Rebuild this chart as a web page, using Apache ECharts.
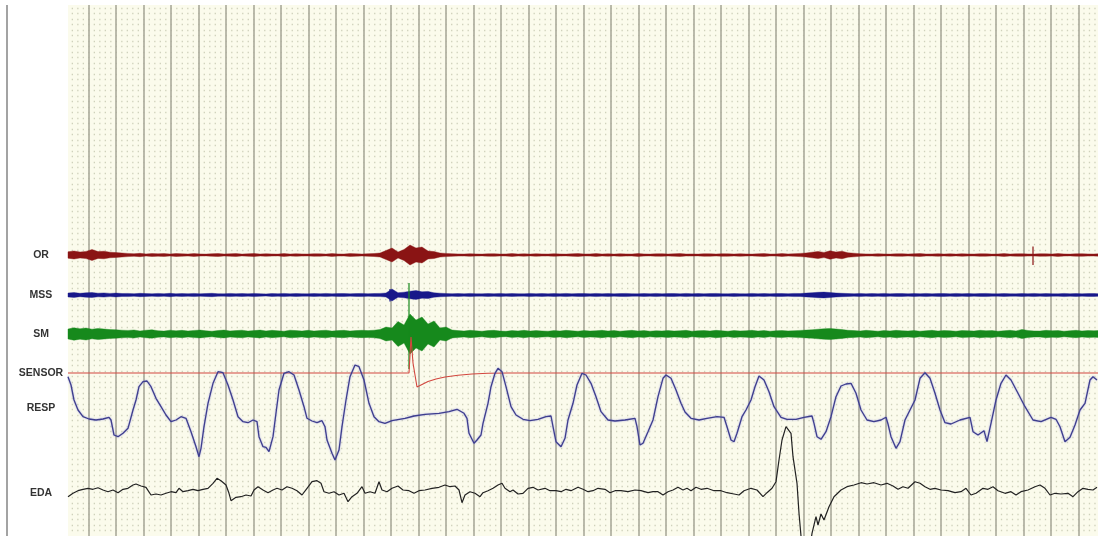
<!DOCTYPE html>
<html>
<head>
<meta charset="utf-8">
<script src="https://cdn.jsdelivr.net/npm/echarts@6/dist/echarts.min.js"></script>
<style>
  html, body { margin: 0; padding: 0; background: #ffffff; }
  #chart { width: 1098px; height: 536px; }
</style>
</head>
<body>
<div id="chart"></div>
<script>
// Polygraph recording: six channels over a common time base (samples).
const channelNames = ['OR', 'MSS', 'SM', 'SENSOR', 'RESP', 'EDA'];

// Min/max envelope half-widths of the three EMG-type channels, one value per bin of 6 samples.
const binStep = 6;
const orEnvelope = [
  3.2, 4, 3, 3.6, 5.5, 3.4, 3.8, 2.8, 2.4, 2,
  1.6, 1.3, 1.7, 1.1, 1.5, 1.2, 1.4, 1, 1.5, 1.2,
  1, 1.4, 1.1, 0.9, 1.3, 1.5, 1, 1.2, 1.4, 0.9,
  1.2, 1.5, 1, 1.3, 1.1, 0.9, 1.4, 1, 1.3, 1.1,
  1, 1.3, 1.2, 0.9, 1.4, 1.1, 1, 1.4, 1.2, 1,
  1.3, 1.5, 2, 4.5, 7, 3, 5.5, 10, 7, 8,
  4, 3.5, 2, 1.6, 1.3, 1.1, 1, 1.3, 1.1, 0.9,
  1.2, 1.3, 1, 1.1, 1.4, 1, 1.2, 0.9, 1.3, 1.1,
  1, 1.3, 1.1, 0.9, 1.2, 1.4, 1, 1.1, 1.4, 1,
  1.2, 0.9, 1.3, 1.1, 1, 1.4, 1.1, 0.9, 1.2, 1.3,
  1, 1.2, 1.4, 1, 1.1, 0.9, 1.3, 1.2, 1, 1.3,
  1.2, 1, 1.3, 1.1, 0.9, 1.2, 1.4, 1, 1.1, 1.4,
  1.1, 1.3, 1.6, 2, 2.8, 3.6, 2.6, 4.2, 3, 3.8,
  2.2, 1.8, 1.3, 1.1, 1, 1.3, 1.1, 0.9, 1.2, 1.3,
  1, 1.2, 1.4, 1, 1.1, 1.3, 1, 1.2, 0.9, 1.3,
  1.1, 1, 1.3, 1.2, 0.9, 1.1, 1.4, 1, 1.2, 1.3,
  1.1, 1, 1.3, 1.2, 1, 1.4, 1.1, 0.9, 1.2, 1.3,
  1.1, 1, 1.2
];
const mssEnvelope = [
  2, 2.4, 1.7, 2.2, 2.5, 1.8, 2.1, 1.6, 1.9, 1.5,
  1.6, 1.3, 1.7, 1.4, 1.2, 1.6, 1.3, 1.7, 1.2, 1.5,
  1.3, 1.6, 1.2, 1.5, 1.7, 1.3, 1.2, 1.6, 1.3, 1.5,
  1.2, 1.6, 1.3, 1.1, 1.5, 1.3, 1.6, 1.2, 1.5, 1.3,
  1.2, 1.5, 1.3, 1.6, 1.2, 1.4, 1.5, 1.2, 1.4, 1.6,
  1.3, 1.5, 1.6, 2, 6, 2.3, 2.8, 3.8, 4.4, 3.2,
  3.6, 2.2, 1.8, 1.5, 1.3, 1.5, 1.2, 1.6, 1.3, 1.2,
  1.5, 1.3, 1.6, 1.2, 1.5, 1.3, 1.2, 1.6, 1.3, 1.5,
  1.2, 1.5, 1.3, 1.6, 1.2, 1.4, 1.5, 1.2, 1.6, 1.3,
  1.5, 1.2, 1.4, 1.6, 1.3, 1.2, 1.5, 1.3, 1.6, 1.2,
  1.4, 1.5, 1.2, 1.6, 1.3, 1.5, 1.2, 1.4, 1.6, 1.3,
  1.2, 1.5, 1.3, 1.2, 1.6, 1.3, 1.5, 1.2, 1.4, 1.5,
  1.3, 1.6, 1.5, 1.9, 2.3, 2.7, 2.9, 2.5, 2, 1.7,
  1.5, 1.3, 1.6, 1.2, 1.5, 1.3, 1.6, 1.2, 1.4, 1.5,
  1.2, 1.5, 1.3, 1.6, 1.2, 1.4, 1.5, 1.2, 1.6, 1.3,
  1.5, 1.2, 1.4, 1.6, 1.3, 1.2, 1.5, 1.3, 1.2, 1.5,
  1.3, 1.6, 1.2, 1.5, 1.3, 1.2, 1.6, 1.3, 1.5, 1.2,
  1.4, 1.5, 1.3
];
const smEnvelope = [
  5, 6.2, 5.2, 6, 4.8, 5.6, 5, 4.4, 4.2, 3.8,
  3.6, 4, 3, 3.8, 4.2, 3.3, 2.9, 3.8, 3.2, 3.7,
  3, 3.6, 3.9, 3.2, 2.8, 3.5, 3.9, 3.1, 3.4, 3.8,
  2.9, 3.4, 3.9, 3.1, 3.7, 3.2, 2.8, 3.8, 3.4, 3,
  3.7, 3, 3.4, 3.8, 2.9, 3.4, 3.7, 3, 3.4, 3.7,
  3.4, 3.8, 4.5, 7, 6, 12.5, 9, 20, 14, 17,
  10, 13, 6, 7, 4, 3.4, 3, 3.7, 3.2, 2.8,
  3.4, 3.7, 3, 2.7, 3.4, 3.1, 3.7, 2.9, 3.4, 3.1,
  2.8, 3.4, 3, 3.7, 3.2, 2.8, 3.5, 3, 3.3, 3.7,
  3, 3.5, 2.8, 3.3, 3.7, 3, 3.4, 2.8, 3.3, 3.1,
  3.5, 3, 3.3, 3.7, 2.8, 3.3, 3.5, 3, 3.7, 3.2,
  2.8, 3.5, 3.1, 3.3, 3.7, 3, 3.5, 2.8, 3.3, 3.5,
  3.1, 3.3, 3.6, 3.9, 4.2, 4.8, 5.2, 5.6, 5, 4.4,
  3.7, 3.4, 3, 3.7, 3.3, 2.8, 3.5, 3.1, 3.7, 3.3,
  3, 3.5, 2.8, 3.3, 3.7, 3, 3.5, 3.3, 2.8, 3.5,
  3.3, 3, 3.7, 3.3, 3.5, 2.8, 3.3, 3.7, 3.1, 4.6,
  3.5, 3.1, 3, 3.7, 3.3, 3.5, 2.8, 3.3, 3.7, 3.1,
  3.5, 3.3, 3.5
];

// Isolated spikes: [sample, top, bottom]
const orSpikes = [[965, 8.5, -10]];
const mssSpikes = [[322, 6, -6.5]];
const smSpikes = [[341, 51, -35]];

// Sensor channel: [sample, value]
const sensorTrace = [
  [0, 0], [341, 0], [343, 36], [345, 10], [349, -14], [354, -11.5], [360, -8.5],
  [368, -6], [377, -4], [390, -2.2], [404, -1], [420, -0.3], [440, 0], [1030, 0]
];

// Respiration channel: [sample, value]
const respTrace = [
  [0, 31.3], [3, 23], [6, 8], [10, -2], [15, -8.7], [21, -11], [28, -12], [35, -11],
  [41, -9.3], [43, -12], [46, -27], [50, -28.7], [55, -25.3], [60, -20.3], [65, -2],
  [68, 8], [71, 21.3], [75, 26.3], [79, 27], [83, 21.3], [88, 9.7], [93, 1.3], [98, -7],
  [103, -13.7], [108, -12], [113, -8.7], [118, -10.3], [123, -23.7], [128, -38.7],
  [131, -48.7], [133, -40.3], [136, -18.7], [140, 4.7], [145, 24.7], [150, 36.3],
  [155, 35.3], [160, 23], [165, 8], [170, -8.7], [175, -13.7], [180, -14.7], [185, -12],
  [189, -13.7], [191, -28.7], [195, -38.7], [198, -39.3], [201, -43.7], [205, -28.7],
  [208, -5], [211, 18], [216, 34.7], [221, 36.3], [226, 33], [231, 18], [236, 1.3],
  [239, -10.3], [244, -13], [249, -14.7], [254, -12.7], [257, -18.7], [259, -32],
  [264, -45.3], [267, -52], [271, -42], [274, -18.7], [278, 8], [282, 31.3], [287, 43],
  [291, 41.3], [296, 28], [301, 4.7], [306, -8.7], [311, -13.7], [317, -15.3],
  [324, -12.7], [337, -10.3], [346, -8], [357, -6.3], [371, -5.3], [381, -3.7],
  [389, -1.3], [396, -5.3], [399, -10.3], [401, -25.3], [406, -35.3], [409, -32],
  [413, -27], [415, -15.3], [420, 4.7], [423, 21.3], [427, 34.7], [430, 39.7],
  [434, 36.3], [438, 21.3], [443, 1.3], [448, -7], [455, -11.3], [462, -12.7],
  [470, -11.3], [478, -8.7], [483, -8], [485, -18.7], [488, -33.7], [493, -38.7],
  [497, -30.3], [500, -12], [505, 4.7], [509, 23], [514, 34.7], [518, 33], [523, 24.7],
  [528, 11.3], [533, -3.7], [540, -12], [547, -13], [557, -12], [567, -10.3],
  [569, -18.7], [572, -37], [575, -35.3], [580, -23.7], [585, -12], [590, 11.3],
  [595, 29.7], [598, 33], [603, 29.7], [608, 18], [613, 4.7], [617, -4], [623, -10.3],
  [631, -12], [639, -10.3], [649, -8.7], [656, -9.3], [659, -18.7], [663, -32],
  [666, -33.7], [669, -25.3], [674, -8.7], [678, -2], [683, 8], [687, 21.3], [691, 32],
  [696, 28], [701, 16.3], [706, 1.3], [713, -9.3], [719, -11.3], [728, -11.3],
  [736, -9.3], [744, -8], [746, -15.3], [749, -28.7], [753, -31.3], [758, -23.7],
  [763, -8.7], [768, 11.3], [773, 22], [778, 24], [783, 24.7], [788, 14.7], [793, -2],
  [799, -12], [806, -13.7], [813, -12], [818, -9.3], [820, -16], [823, -28.7],
  [828, -40.3], [832, -33.7], [837, -12], [842, -2], [847, 8], [852, 29.7], [857, 35.3],
  [862, 29.7], [867, 14.7], [872, -2], [877, -14.7], [883, -16], [892, -12], [902, -9.3],
  [905, -23.7], [910, -27], [916, -22.7], [919, -33.7], [923, -15.3], [928, 8],
  [933, 24.7], [938, 33], [943, 28], [950, 14.7], [957, 1.3], [965, -12], [973, -13.7],
  [983, -9.3], [988, -11.3], [992, -18.7], [997, -33.7], [1002, -29.3], [1007, -17],
  [1012, -2], [1017, 4.7], [1022, 28], [1025, 31.3], [1029, 28]
];

// Electrodermal channel: [sample, value]
const edaTrace = [
  [0, -3.7], [5, -0.3], [10, 2.3], [15, 3.7], [20, 4.7], [25, 3.7], [30, 5.3], [35, 3],
  [40, 1.3], [45, 3], [50, 0.3], [55, 3.7], [60, 4.7], [65, 8], [68, 9], [73, 7],
  [78, 5.7], [83, -2], [88, -1], [93, -2], [98, -0.3], [103, 1.3], [108, 0.3], [111, 4.7],
  [115, 1.3], [120, 2.3], [125, 3.7], [130, 2.3], [135, 3.7], [140, 4.7], [145, 9.7],
  [149, 14.7], [153, 12.3], [158, 8], [161, -0.3], [163, -7.7], [168, -4.3], [173, -3.7],
  [178, -2], [183, -3], [186, 3], [190, 6.3], [195, 3], [200, 0.3], [205, 3], [209, 4.7],
  [214, 3], [219, 6.3], [224, 4.7], [229, 2.3], [234, -2], [239, 4.7], [244, 11.3],
  [249, 12.3], [253, 9.7], [256, 1.3], [261, -0.3], [266, 1.3], [271, -2], [276, -0.3],
  [280, -8.7], [284, -3.7], [289, -0.3], [294, 6.3], [297, -0.3], [302, 1.3], [307, -0.3],
  [311, 11.3], [314, 3], [319, 1.3], [324, 4.7], [330, 7], [335, 3], [341, 2.3],
  [346, -0.3], [351, 2.3], [357, 3], [364, 4.7], [371, 5.7], [377, 8], [382, 6.3],
  [387, 7], [391, 3], [394, -9.7], [397, -2], [402, 1.3], [407, -0.3], [412, -3.7],
  [415, 0.3], [420, 2.3], [425, 4.7], [430, 8], [434, 9.7], [437, 4.7], [442, 1.3],
  [445, 3], [450, -1], [455, -0.3], [460, 4.7], [465, 5.7], [470, 3], [477, 4.7],
  [482, 2.3], [488, 2.3], [493, 1.3], [498, 3.7], [503, 2.3], [510, 5.7], [515, 3.7],
  [520, 1.3], [525, 2.3], [530, 4.7], [537, 3.7], [542, 0.3], [547, 2.3], [553, 2.3],
  [560, 1.3], [567, 3], [573, 2.3], [580, 0.3], [585, 1.3], [590, 1.3], [595, -2],
  [600, 1.3], [605, 3], [610, 5.7], [615, 3], [619, 4.7], [623, 2.3], [628, 5.7],
  [633, 3.7], [639, 4.7], [646, 2.3], [653, 2.3], [659, 0.3], [666, -1], [671, -2],
  [676, 2.3], [683, 4.7], [689, 3], [695, -3.7], [699, 0.3], [704, 4.7], [708, 11.3],
  [711, 33], [714, 53], [718, 66.3], [720, 68], [723, 59.7], [725, 36.3], [729, 9.7],
  [731, -20.3], [733, -43], [735, -60], [739, -64], [742, -55], [744, -40.3],
  [748, -23.7], [750, -32], [753, -21], [756, -27], [761, -13.7], [766, -3.7], [773, 3],
  [779, 6.3], [786, 8], [793, 10.3], [799, 9], [806, 10.3], [813, 8], [819, 9.7],
  [825, 7], [830, 3.7], [835, 6.3], [840, 4.7], [847, 11.3], [852, 9.7], [857, 6.3],
  [862, 3.7], [867, 4.7], [873, 3], [880, 2.3], [887, 0.3], [893, 1.3], [898, 4.7],
  [903, -2], [908, -0.3], [915, 4.7], [920, 3.7], [925, 6.3], [930, 2.3], [937, -0.3],
  [943, 1.3], [948, -2], [953, 1.3], [960, 3], [967, 6.3], [972, 8], [977, 4.7],
  [982, -2], [987, -0.3], [993, -1], [1000, -0.3], [1005, -3.7], [1010, 1.3],
  [1015, 4.7], [1020, 3.7], [1025, 3], [1029, 5.7]
];

// ---- layout ----
const PLOT_LEFT = 68;
const SAMPLES = 1030;
const DIV = 27.49;            // px per major division
const FIRST_LINE = 88.7;      // first major division line
const colors = {
  OR: '#8a1414', MSS: '#18188a', SM: '#16891c', SENSOR: '#d2463e', RESP: '#3e3e8e', EDA: '#222222'
};
// vertical centre and half-range (px) of each channel strip
const strips = [
  { c: 255, h: 20 }, { c: 295, h: 20 }, { c: 334, h: 40 },
  { c: 373, h: 38 }, { c: 408, h: 60 }, { c: 493, h: 40 }
];

const grids = [
  // paper background with dotted rows
  { left: PLOT_LEFT, right: 0, top: 5, bottom: 0, show: true, backgroundColor: '#fbfbec', borderWidth: 0 },
  // major division lines
  { left: FIRST_LINE - DIV, right: 0, top: 5, bottom: 0 }
];

const xAxes = [
  { gridIndex: 0, type: 'value', min: 0, max: SAMPLES, show: false },
  {
    gridIndex: 1, type: 'value', min: 0, max: 1098 - (FIRST_LINE - DIV), interval: DIV,
    axisLine: { show: false }, axisTick: { show: false }, axisLabel: { show: false },
    splitLine: { show: true, showMinLine: false, showMaxLine: false,
      lineStyle: { color: '#aaaa9b', width: 1.6 } }
  }
];
const yAxes = [
  {
    gridIndex: 0, type: 'value', min: 0, max: 531 / 5.498, interval: 1,
    axisLine: { show: false }, axisTick: { show: false }, axisLabel: { show: false },
    splitLine: { show: true, showMinLine: false, showMaxLine: false,
      lineStyle: { color: '#cfd1bb', width: 1.3, type: [1.3, 4.198], dashOffset: 1.8 } }
  },
  { gridIndex: 1, type: 'value', show: false }
];

channelNames.forEach((name, k) => {
  const s = strips[k];
  grids.push({ left: PLOT_LEFT, right: 0, top: s.c - s.h, height: 2 * s.h });
  const g = grids.length - 1;
  xAxes.push({ gridIndex: g, type: 'value', min: 0, max: SAMPLES, show: false });
  yAxes.push({
    gridIndex: g, type: 'value', min: -s.h, max: s.h,
    axisLine: { show: false }, axisTick: { show: false }, axisLabel: { show: false },
    splitLine: { show: false },
    name: name, nameLocation: 'middle', nameRotate: 0, nameGap: 27,
    nameTextStyle: { align: 'center', verticalAlign: 'middle', fontFamily: 'Liberation Sans',
      fontWeight: 'bold', fontSize: 10.5, color: '#333333' }
  });
});
const axisOf = name => 2 + channelNames.indexOf(name);

// min/max envelope drawn as a filled band around the channel baseline
function envelopeSeries(name, env) {
  const idx = axisOf(name);
  const color = colors[name];
  return {
    type: 'custom', name: name, xAxisIndex: idx, yAxisIndex: idx, silent: true,
    data: [[0, 0]],
    renderItem: function (params, api) {
      const upper = [], lower = [];
      for (let i = 0; i < env.length; i++) {
        upper.push(api.coord([i * binStep, env[i]]));
        lower.push(api.coord([i * binStep, -env[i]]));
      }
      return {
        type: 'polygon',
        shape: { points: upper.concat(lower.reverse()) },
        style: { fill: color, stroke: color, lineWidth: 0.4 }
      };
    }
  };
}
function spikeSeries(name, spikes) {
  const idx = axisOf(name);
  const color = colors[name];
  return {
    type: 'custom', xAxisIndex: idx, yAxisIndex: idx, silent: true, clip: false,
    data: spikes,
    renderItem: function (params, api) {
      const a = api.coord([api.value(0), api.value(1)]);
      const b = api.coord([api.value(0), api.value(2)]);
      return { type: 'line', shape: { x1: a[0], y1: a[1], x2: b[0], y2: b[1] },
        style: { stroke: color, lineWidth: 1.2 } };
    }
  };
}
function traceSeries(name, data, width, halo) {
  const idx = axisOf(name);
  const lineStyle = { color: colors[name], width: width };
  if (halo) {
    lineStyle.shadowColor = halo;
    lineStyle.shadowBlur = 2;
  }
  return {
    type: 'line', name: name, xAxisIndex: idx, yAxisIndex: idx, data: data,
    showSymbol: false, silent: true, clip: false, animation: false,
    lineStyle: lineStyle
  };
}

const series = [
  envelopeSeries('OR', orEnvelope),
  spikeSeries('OR', orSpikes),
  envelopeSeries('MSS', mssEnvelope),
  spikeSeries('MSS', mssSpikes),
  envelopeSeries('SM', smEnvelope),
  spikeSeries('SM', smSpikes),
  traceSeries('SENSOR', sensorTrace, 1.1),
  traceSeries('RESP', respTrace, 1.3, 'rgba(110,110,210,0.6)'),
  traceSeries('EDA', edaTrace, 1.2)
];

const chart = echarts.init(document.getElementById('chart'), null, { renderer: 'canvas' });
chart.setOption({
  animation: false,
  backgroundColor: '#ffffff',
  grid: grids,
  xAxis: xAxes,
  yAxis: yAxes,
  series: series,
  graphic: [{
    type: 'line', shape: { x1: 7, y1: 5, x2: 7, y2: 536 },
    style: { stroke: '#8c8c8c', lineWidth: 1.6 }, silent: true
  }]
});
</script>
</body>
</html>
